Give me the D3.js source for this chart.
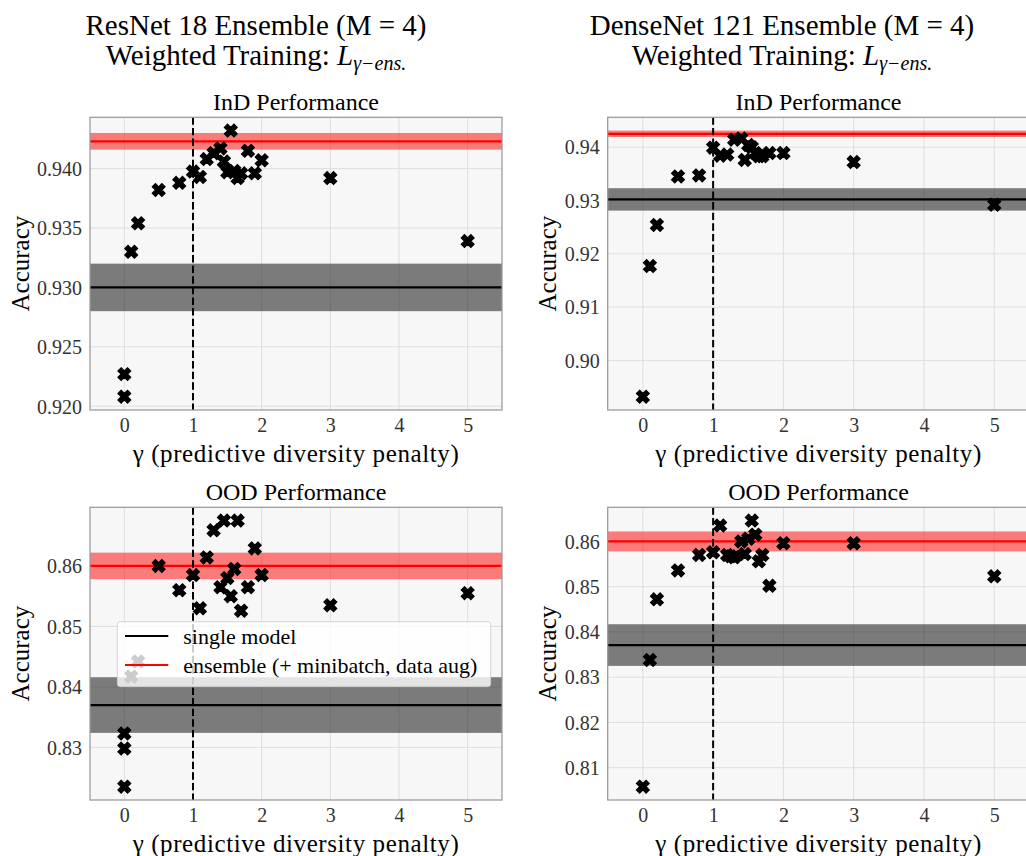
<!DOCTYPE html>
<html><head><meta charset="utf-8">
<script src="https://cdn.jsdelivr.net/npm/d3@7"></script>
<style>
body{margin:0;background:#fff}
svg{display:block}
</style>
</head><body>
<svg id="chart" width="1026" height="856"></svg>
<script>
// ---------------- DATA ----------------
const xTicks = [0, 1, 2, 3, 4, 5];
const gammaLine = 1;

// ResNet 18 – InD
const resnetIndGamma = [0, 0, 0.1, 0.2, 0.5, 0.8, 1.0, 1.1, 1.2, 1.3, 1.4, 1.45, 1.5, 1.55, 1.6, 1.65, 1.7, 1.8, 1.9, 2.0, 3, 5];
const resnetIndAcc   = [0.9227, 0.9208, 0.9330, 0.9354, 0.9382, 0.9388, 0.93975, 0.9393, 0.9408, 0.9413, 0.9417, 0.9406, 0.9397, 0.9432, 0.9398, 0.9392, 0.9396, 0.9415, 0.9396, 0.9407, 0.9392, 0.9339];
const resnetIndSingle = [0.9300, 0.0020];   // mean, half-width
const resnetIndEns    = [0.9423, 0.0007];
const resnetIndTicks  = [0.920, 0.925, 0.930, 0.935, 0.940];

// DenseNet 121 – InD
const densenetIndGamma = [0, 0.1, 0.2, 0.5, 0.8, 1.0, 1.1, 1.2, 1.3, 1.4, 1.45, 1.5, 1.55, 1.6, 1.65, 1.7, 1.8, 2.0, 3, 5];
const densenetIndAcc   = [0.8932, 0.9177, 0.9254, 0.9345, 0.9347, 0.9399, 0.9384, 0.9386, 0.9414, 0.9416, 0.9376, 0.9404, 0.9400, 0.9389, 0.9383, 0.9383, 0.9389, 0.9389, 0.9372, 0.9292];
const densenetIndSingle = [0.9302, 0.0021];
const densenetIndEns    = [0.9425, 0.0006];
const densenetIndTicks  = [0.90, 0.91, 0.92, 0.93, 0.94];

// ResNet 18 – OOD
const resnetOodGamma = [0, 0, 0, 0.1, 0.2, 0.5, 0.8, 1.0, 1.1, 1.2, 1.3, 1.4, 1.45, 1.5, 1.55, 1.6, 1.65, 1.7, 1.8, 1.9, 2.0, 3, 5];
const resnetOodAcc   = [0.8235, 0.8298, 0.8323, 0.8417, 0.8442, 0.8600, 0.8560, 0.8585, 0.8530, 0.8614, 0.8659, 0.8565, 0.8675, 0.8580, 0.8550, 0.8595, 0.8675, 0.8526, 0.8565, 0.8629, 0.8585, 0.8535, 0.8555];
const resnetOodSingle = [0.8370, 0.0046];
const resnetOodEns    = [0.8600, 0.0022];
const resnetOodTicks  = [0.83, 0.84, 0.85, 0.86];

// DenseNet 121 – OOD
const densenetOodGamma = [0, 0.1, 0.2, 0.5, 0.8, 1.0, 1.1, 1.2, 1.25, 1.3, 1.4, 1.45, 1.5, 1.55, 1.6, 1.65, 1.7, 1.8, 2.0, 3, 5];
const densenetOodAcc   = [0.8058, 0.8338, 0.8472, 0.8536, 0.8570, 0.8576, 0.8635, 0.8570, 0.8567, 0.8565, 0.8600, 0.8572, 0.8606, 0.8646, 0.8615, 0.8556, 0.8570, 0.8502, 0.8596, 0.8596, 0.8523];
const densenetOodSingle = [0.8371, 0.0046];
const densenetOodEns    = [0.8600, 0.0022];
const densenetOodTicks  = [0.81, 0.82, 0.83, 0.84, 0.85, 0.86];

const columnTitles = ["ResNet 18 Ensemble (M = 4)", "DenseNet 121 Ensemble (M = 4)"];
const rowTitles = ["InD Performance", "OOD Performance"];
const legendLabels = ["single model", "ensemble (+ minibatch, data aug)"];
const xLabel = "γ (predictive diversity penalty)";
const yLabel = "Accuracy";

// ---------------- LAYOUT ----------------
const FONT = '"Liberation Serif","DejaVu Serif",serif';
const svg = d3.select("#chart").attr("font-family", FONT);
const colLeft = [90, 607.7], colWidth = [412, 421.7];
const rowTop = [117.3, 507.3], plotH = 292.7;
const colTitleX = [256, 782];

const panels = [
  {col:0,row:0,gamma:resnetIndGamma,acc:resnetIndAcc,single:resnetIndSingle,ens:resnetIndEns,ticks:resnetIndTicks,fmt:".3f",legend:false},
  {col:1,row:0,gamma:densenetIndGamma,acc:densenetIndAcc,single:densenetIndSingle,ens:densenetIndEns,ticks:densenetIndTicks,fmt:".2f",legend:false},
  {col:0,row:1,gamma:resnetOodGamma,acc:resnetOodAcc,single:resnetOodSingle,ens:resnetOodEns,ticks:resnetOodTicks,fmt:".2f",legend:true},
  {col:1,row:1,gamma:densenetOodGamma,acc:densenetOodAcc,single:densenetOodSingle,ens:densenetOodEns,ticks:densenetOodTicks,fmt:".2f",legend:false},
];

// X marker (matplotlib 'X' filled path)
const xVerts = [[-1,-2],[0,-1],[1,-2],[2,-1],[1,0],[2,1],[1,2],[0,1],[-1,2],[-2,1],[-1,0],[-2,-1]];
const mk = 3.2;
const markerPath = "M" + xVerts.map(v => (v[0]*mk)+","+(v[1]*mk)).join("L") + "Z";

// Column titles
columnTitles.forEach((t, i) => {
  svg.append("text").attr("x", colTitleX[i]).attr("y", 35)
    .attr("text-anchor", "middle").attr("font-size", 29).attr("fill", "#000").text(t);
  const t2 = svg.append("text").attr("x", colTitleX[i]).attr("y", 64.5)
    .attr("text-anchor", "middle").attr("font-size", 29).attr("fill", "#000");
  t2.append("tspan").text("Weighted Training: ");
  t2.append("tspan").attr("font-style", "italic").text("L");
  t2.append("tspan").attr("font-style", "italic").attr("font-size", 20).attr("dy", 5).text("γ−ens.");
});

panels.forEach(p => {
  const left = colLeft[p.col], top = rowTop[p.row], W = colWidth[p.col], H = plotH;
  const x = d3.scaleLinear().domain([-0.5, 5.5]).range([left, left + W]);
  const vals = p.acc.concat([p.single[0]-p.single[1], p.single[0]+p.single[1], p.ens[0]-p.ens[1], p.ens[0]+p.ens[1]]);
  const [lo, hi] = d3.extent(vals);
  const pad = (hi - lo) * 0.05;
  const y = d3.scaleLinear().domain([lo - pad, hi + pad]).range([top + H, top]);
  const g = svg.append("g");

  const clipId = "clip" + p.col + p.row;
  svg.append("clipPath").attr("id", clipId).append("rect")
    .attr("x", left).attr("y", top).attr("width", W).attr("height", H);

  g.append("rect").attr("x", left).attr("y", top).attr("width", W).attr("height", H).attr("fill", "#f7f7f7");

  const inner = g.append("g").attr("clip-path", `url(#${clipId})`);
  inner.selectAll(".gx").data(xTicks).join("line")
    .attr("x1", d => x(d)).attr("x2", d => x(d)).attr("y1", top).attr("y2", top + H)
    .attr("stroke", "#dedede").attr("stroke-width", 1);
  inner.selectAll(".gy").data(p.ticks).join("line")
    .attr("x1", left).attr("x2", left + W).attr("y1", d => y(d)).attr("y2", d => y(d))
    .attr("stroke", "#dedede").attr("stroke-width", 1);

  const bands = [{c:"#000", v:p.single}, {c:"#ff0000", v:p.ens}];
  inner.selectAll(".band").data(bands).join("rect")
    .attr("x", left).attr("width", W)
    .attr("y", d => y(d.v[0] + d.v[1])).attr("height", d => y(d.v[0] - d.v[1]) - y(d.v[0] + d.v[1]))
    .attr("fill", d => d.c).attr("fill-opacity", 0.5);
  inner.selectAll(".hl").data(bands).join("line")
    .attr("x1", left).attr("x2", left + W).attr("y1", d => y(d.v[0])).attr("y2", d => y(d.v[0]))
    .attr("stroke", d => d.c).attr("stroke-width", 2.2);

  const pts = p.gamma.map((gm, i) => [gm, p.acc[i]]);
  inner.selectAll(".pt").data(pts).join("path")
    .attr("d", markerPath)
    .attr("transform", d => `translate(${x(d[0])},${y(d[1])})`)
    .attr("fill", "#000").attr("stroke", "#000").attr("stroke-width", 1.2).attr("stroke-linejoin", "miter");

  inner.append("line").attr("x1", x(gammaLine)).attr("x2", x(gammaLine))
    .attr("y1", top).attr("y2", top + H)
    .attr("stroke", "#000").attr("stroke-width", 2).attr("stroke-dasharray", "7.4,3.2");

  g.append("rect").attr("x", left).attr("y", top).attr("width", W).attr("height", H)
    .attr("fill", "none").attr("stroke", "#999").attr("stroke-width", 1.25);

  const xa = g.append("g").attr("transform", `translate(0,${top + H})`)
    .call(d3.axisBottom(x).tickValues(xTicks).tickFormat(d3.format("d")).tickSize(0).tickPadding(0));
  xa.attr("font-family", FONT);
  xa.select(".domain").remove();
  xa.selectAll("text").attr("font-size", 20).attr("fill", "#333").attr("dy", 0).attr("y", 21.7);

  const ya = g.append("g").attr("transform", `translate(${left},0)`)
    .call(d3.axisLeft(y).tickValues(p.ticks).tickFormat(d3.format(p.fmt)).tickSize(0).tickPadding(8));
  ya.attr("font-family", FONT);
  ya.select(".domain").remove();
  ya.selectAll("text").attr("font-size", 20).attr("fill", "#333").attr("dy", "0.34em");

  g.append("text").attr("x", left + W/2).attr("y", top - 7.3)
    .attr("text-anchor", "middle").attr("font-size", 24).attr("fill", "#000").text(rowTitles[p.row]);
  g.append("text").attr("x", x(2.5)).attr("y", top + H + 51.7)
    .attr("text-anchor", "middle").attr("font-size", 25).attr("letter-spacing", 0.6)
    .attr("fill", "#000").text(xLabel);
  const ylx = p.col === 0 ? left - 61 : left - 51.7;
  g.append("text").attr("transform", `translate(${ylx},${top + H/2}) rotate(-90)`)
    .attr("text-anchor", "middle").attr("font-size", 25).attr("fill", "#000").text(yLabel);

  if (p.legend) {
    const lg = g.append("g");
    lg.append("rect").attr("x", 117.3).attr("y", 621.7).attr("width", 373.4).attr("height", 65)
      .attr("rx", 3).attr("fill", "#fff").attr("fill-opacity", 0.8)
      .attr("stroke", "#ccc").attr("stroke-opacity", 0.8).attr("stroke-width", 1);
    const items = [{c:"#000", t:legendLabels[0]}, {c:"#ff0000", t:legendLabels[1]}];
    items.forEach((it, i) => {
      const cy = 636 + i * 29;
      lg.append("line").attr("x1", 125).attr("x2", 168.3).attr("y1", cy).attr("y2", cy)
        .attr("stroke", it.c).attr("stroke-width", 2.2);
      lg.append("text").attr("x", 183.3).attr("y", cy + 7.5).attr("font-size", 22).attr("fill", "#000").text(it.t);
    });
  }
});
</script>
</body></html>
